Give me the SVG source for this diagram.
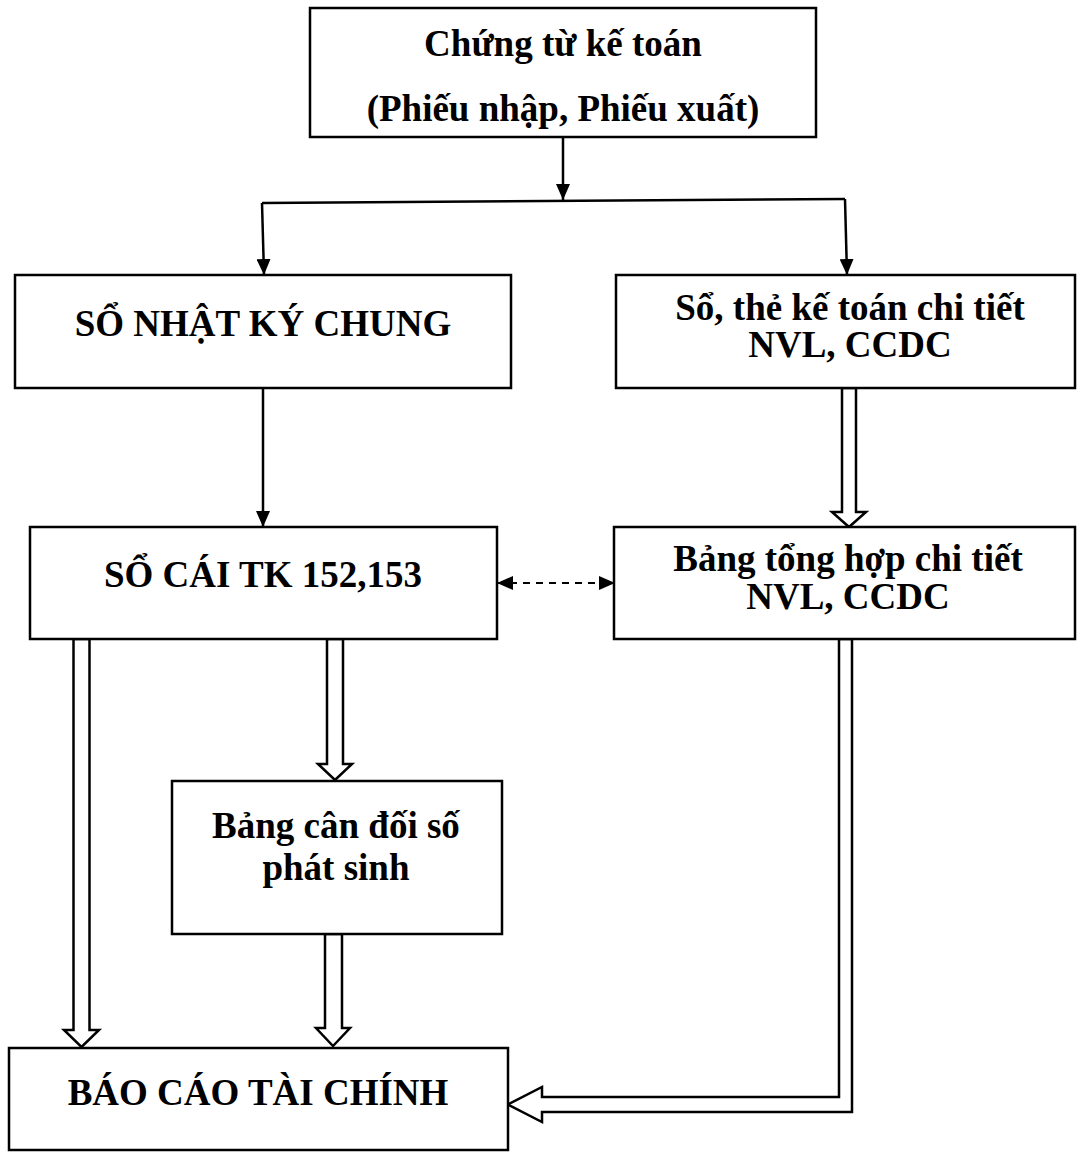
<svg xmlns="http://www.w3.org/2000/svg" width="1080" height="1157" viewBox="0 0 1080 1157">
  <style>
    .box { fill: #ffffff; stroke: #000000; stroke-width: 2.5; }
    .lbl { font-family: "Liberation Serif", "Times New Roman", serif; font-weight: bold; font-size: 37px; fill: #000000; text-anchor: middle; }
    .wire { fill: none; stroke: #000000; stroke-width: 2.5; }
    .dash { fill: none; stroke: #000000; stroke-width: 2.2; stroke-dasharray: 7 6; }
    .block { fill: #ffffff; stroke: #000000; stroke-width: 2.5; stroke-linejoin: miter; }
  </style>
  <defs>
    <marker id="head" viewBox="0 0 16 14" refX="16" refY="7" markerWidth="16" markerHeight="14" markerUnits="userSpaceOnUse" orient="auto-start-reverse">
      <path d="M0,0 L16,7 L0,14 Z" fill="#000000"/>
    </marker>
  </defs>
  <rect width="1080" height="1157" fill="#ffffff"/>

  <g id="connectors">
    <!-- source documents split to the two ledgers -->
    <path class="wire" d="M563,137 L563,200" marker-end="url(#head)"/>
    <path class="wire" d="M262,203 L845,199"/>
    <path class="wire" d="M262,203 L264,275" marker-end="url(#head)"/>
    <path class="wire" d="M845,199 L847,275" marker-end="url(#head)"/>
    <!-- journal to general ledger -->
    <path class="wire" d="M263,388 L263,527" marker-end="url(#head)"/>
    <!-- reconciliation between ledger and detail summary -->
    <path class="dash" d="M497,583 L615,583" marker-start="url(#head)" marker-end="url(#head)"/>
    <!-- hollow block arrows -->
    <polygon class="block" points="842,388 856,388 856,512 866,512 849,527 832,512 842,512"/>
    <polygon class="block" points="73.5,639 89.5,639 89.5,1030 99,1030 81.5,1047 64,1030 73.5,1030"/>
    <polygon class="block" points="327,639 343,639 343,764 352,764 335,780 318,764 327,764"/>
    <polygon class="block" points="325,934 342,934 342,1028 350,1028 333,1046 316,1028 325,1028"/>
    <polygon class="block" points="839,639 852,639 852,1112 542,1112 542,1122 508,1104.5 542,1087 542,1097 839,1097"/>
  </g>

  <g id="chung-tu">
    <rect class="box" x="310" y="8" width="506" height="129"/>
    <text class="lbl" x="563" y="56">Chứng từ kế toán</text>
    <text class="lbl" x="563" y="121">(Phiếu nhập, Phiếu xuất)</text>
  </g>

  <g id="nhat-ky-chung">
    <rect class="box" x="15" y="275" width="496" height="113"/>
    <text class="lbl" x="263" y="336">SỔ NHẬT KÝ CHUNG</text>
  </g>

  <g id="so-the-chi-tiet">
    <rect class="box" x="616" y="275" width="459" height="113"/>
    <text class="lbl" x="850" y="320">Sổ, thẻ kế toán chi tiết</text>
    <text class="lbl" x="850" y="357">NVL, CCDC</text>
  </g>

  <g id="so-cai">
    <rect class="box" x="30" y="527" width="467" height="112"/>
    <text class="lbl" x="263" y="587">SỔ CÁI TK 152,153</text>
  </g>

  <g id="tong-hop-chi-tiet">
    <rect class="box" x="614" y="527" width="461" height="112"/>
    <text class="lbl" x="848" y="571">Bảng tổng hợp chi tiết</text>
    <text class="lbl" x="848" y="609">NVL, CCDC</text>
  </g>

  <g id="can-doi-phat-sinh">
    <rect class="box" x="172" y="781" width="330" height="153"/>
    <text class="lbl" x="336" y="838">Bảng cân đối số</text>
    <text class="lbl" x="336" y="880">phát sinh</text>
  </g>

  <g id="bao-cao-tai-chinh">
    <rect class="box" x="9" y="1048" width="499" height="102"/>
    <text class="lbl" x="258" y="1105">BÁO CÁO TÀI CHÍNH</text>
  </g>
</svg>
